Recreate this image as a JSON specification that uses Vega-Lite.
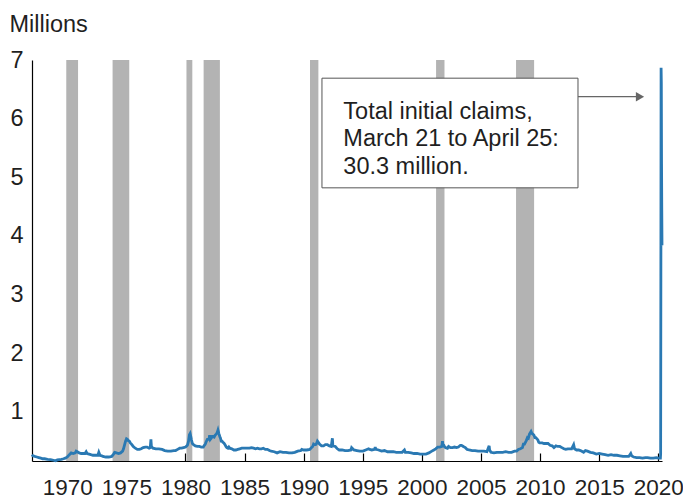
{
  "$schema": "https://vega.github.io/schema/vega-lite/v6.json",
  "width": 630,
  "height": 401,
  "autosize": "none",
  "padding": {"left": 32, "top": 60, "right": 21, "bottom": 38},
  "config": {"view": {"stroke": null}, "font": "Liberation Sans"},
  "datasets": {
    "claims": [
      {"date": "1967-01-07", "value": 0.27}, {"date": "1967-02-04", "value": 0.25}, {"date": "1967-04-01", "value": 0.24},
      {"date": "1967-06-03", "value": 0.23}, {"date": "1967-08-05", "value": 0.22}, {"date": "1967-10-07", "value": 0.21},
      {"date": "1967-12-02", "value": 0.2}, {"date": "1968-02-03", "value": 0.2}, {"date": "1968-05-04", "value": 0.19},
      {"date": "1968-08-03", "value": 0.185}, {"date": "1968-11-02", "value": 0.175}, {"date": "1969-01-04", "value": 0.165},
      {"date": "1969-03-01", "value": 0.18}, {"date": "1969-05-03", "value": 0.185}, {"date": "1969-07-05", "value": 0.19},
      {"date": "1969-09-06", "value": 0.2}, {"date": "1969-11-01", "value": 0.21}, {"date": "1970-01-03", "value": 0.23},
      {"date": "1970-03-07", "value": 0.27}, {"date": "1970-05-02", "value": 0.3}, {"date": "1970-07-04", "value": 0.29},
      {"date": "1970-09-05", "value": 0.3}, {"date": "1970-10-03", "value": 0.33}, {"date": "1970-11-07", "value": 0.32},
      {"date": "1971-01-02", "value": 0.3}, {"date": "1971-03-06", "value": 0.29}, {"date": "1971-05-01", "value": 0.29},
      {"date": "1971-07-03", "value": 0.29}, {"date": "1971-08-07", "value": 0.32}, {"date": "1971-09-04", "value": 0.29},
      {"date": "1971-11-06", "value": 0.28}, {"date": "1972-01-01", "value": 0.27}, {"date": "1972-03-04", "value": 0.26},
      {"date": "1972-06-03", "value": 0.26}, {"date": "1972-08-05", "value": 0.26}, {"date": "1972-09-02", "value": 0.31},
      {"date": "1972-10-07", "value": 0.26}, {"date": "1972-12-02", "value": 0.25}, {"date": "1973-01-06", "value": 0.24},
      {"date": "1973-04-07", "value": 0.23}, {"date": "1973-07-07", "value": 0.23}, {"date": "1973-10-06", "value": 0.24},
      {"date": "1973-12-01", "value": 0.28}, {"date": "1974-01-05", "value": 0.31}, {"date": "1974-03-02", "value": 0.3},
      {"date": "1974-05-04", "value": 0.29}, {"date": "1974-07-06", "value": 0.3}, {"date": "1974-09-07", "value": 0.33},
      {"date": "1974-10-05", "value": 0.37}, {"date": "1974-11-02", "value": 0.43}, {"date": "1974-12-07", "value": 0.5},
      {"date": "1975-01-04", "value": 0.54}, {"date": "1975-02-01", "value": 0.53}, {"date": "1975-03-01", "value": 0.51},
      {"date": "1975-04-05", "value": 0.5}, {"date": "1975-05-03", "value": 0.47}, {"date": "1975-06-07", "value": 0.45},
      {"date": "1975-08-02", "value": 0.41}, {"date": "1975-10-04", "value": 0.38}, {"date": "1975-12-06", "value": 0.36},
      {"date": "1976-02-07", "value": 0.36}, {"date": "1976-04-03", "value": 0.37}, {"date": "1976-06-05", "value": 0.39},
      {"date": "1976-08-07", "value": 0.4}, {"date": "1976-10-02", "value": 0.4}, {"date": "1976-12-04", "value": 0.38},
      {"date": "1977-01-08", "value": 0.39}, {"date": "1977-01-29", "value": 0.53}, {"date": "1977-02-12", "value": 0.41},
      {"date": "1977-04-02", "value": 0.38}, {"date": "1977-07-02", "value": 0.37}, {"date": "1977-10-01", "value": 0.37},
      {"date": "1978-01-07", "value": 0.36}, {"date": "1978-04-01", "value": 0.34}, {"date": "1978-07-01", "value": 0.33},
      {"date": "1978-10-07", "value": 0.33}, {"date": "1979-01-06", "value": 0.34}, {"date": "1979-03-03", "value": 0.34},
      {"date": "1979-05-05", "value": 0.36}, {"date": "1979-07-07", "value": 0.38}, {"date": "1979-09-01", "value": 0.38},
      {"date": "1979-11-03", "value": 0.39}, {"date": "1980-01-05", "value": 0.4}, {"date": "1980-03-01", "value": 0.43},
      {"date": "1980-04-05", "value": 0.5}, {"date": "1980-05-03", "value": 0.61}, {"date": "1980-05-24", "value": 0.63},
      {"date": "1980-06-14", "value": 0.58}, {"date": "1980-07-05", "value": 0.52}, {"date": "1980-08-02", "value": 0.46},
      {"date": "1980-09-06", "value": 0.44}, {"date": "1980-11-01", "value": 0.42}, {"date": "1981-01-03", "value": 0.41},
      {"date": "1981-03-07", "value": 0.41}, {"date": "1981-05-02", "value": 0.4}, {"date": "1981-07-04", "value": 0.4},
      {"date": "1981-08-08", "value": 0.43}, {"date": "1981-09-05", "value": 0.45}, {"date": "1981-10-03", "value": 0.49},
      {"date": "1981-11-07", "value": 0.53}, {"date": "1981-12-05", "value": 0.53}, {"date": "1982-01-02", "value": 0.55},
      {"date": "1982-01-16", "value": 0.6}, {"date": "1982-02-06", "value": 0.53}, {"date": "1982-03-06", "value": 0.55},
      {"date": "1982-04-03", "value": 0.58}, {"date": "1982-05-01", "value": 0.58}, {"date": "1982-06-05", "value": 0.57},
      {"date": "1982-07-03", "value": 0.6}, {"date": "1982-08-07", "value": 0.62}, {"date": "1982-09-04", "value": 0.64},
      {"date": "1982-10-02", "value": 0.69}, {"date": "1982-10-30", "value": 0.63}, {"date": "1982-11-27", "value": 0.58},
      {"date": "1982-12-18", "value": 0.55}, {"date": "1983-01-08", "value": 0.5}, {"date": "1983-02-05", "value": 0.5},
      {"date": "1983-03-05", "value": 0.48}, {"date": "1983-04-02", "value": 0.47}, {"date": "1983-05-07", "value": 0.44},
      {"date": "1983-06-04", "value": 0.41}, {"date": "1983-07-02", "value": 0.39}, {"date": "1983-08-06", "value": 0.38},
      {"date": "1983-09-03", "value": 0.4}, {"date": "1983-10-01", "value": 0.38}, {"date": "1983-12-03", "value": 0.37},
      {"date": "1984-02-04", "value": 0.35}, {"date": "1984-04-07", "value": 0.35}, {"date": "1984-06-02", "value": 0.36},
      {"date": "1984-08-04", "value": 0.37}, {"date": "1984-10-06", "value": 0.38}, {"date": "1984-12-01", "value": 0.38},
      {"date": "1985-02-02", "value": 0.38}, {"date": "1985-04-06", "value": 0.38}, {"date": "1985-06-01", "value": 0.38},
      {"date": "1985-08-03", "value": 0.39}, {"date": "1985-10-05", "value": 0.38}, {"date": "1985-12-07", "value": 0.37},
      {"date": "1986-02-01", "value": 0.38}, {"date": "1986-04-05", "value": 0.37}, {"date": "1986-06-07", "value": 0.37},
      {"date": "1986-08-02", "value": 0.38}, {"date": "1986-10-04", "value": 0.36}, {"date": "1986-12-06", "value": 0.36},
      {"date": "1987-02-07", "value": 0.34}, {"date": "1987-04-04", "value": 0.33}, {"date": "1987-07-04", "value": 0.32},
      {"date": "1987-10-03", "value": 0.3}, {"date": "1988-01-02", "value": 0.32}, {"date": "1988-04-02", "value": 0.31},
      {"date": "1988-07-02", "value": 0.31}, {"date": "1988-10-01", "value": 0.3}, {"date": "1989-01-07", "value": 0.3},
      {"date": "1989-04-01", "value": 0.31}, {"date": "1989-07-01", "value": 0.33}, {"date": "1989-10-07", "value": 0.34},
      {"date": "1989-11-04", "value": 0.36}, {"date": "1990-01-06", "value": 0.35}, {"date": "1990-04-07", "value": 0.35},
      {"date": "1990-07-07", "value": 0.36}, {"date": "1990-09-01", "value": 0.39}, {"date": "1990-10-06", "value": 0.41},
      {"date": "1990-11-03", "value": 0.45}, {"date": "1990-12-01", "value": 0.44}, {"date": "1991-01-05", "value": 0.44},
      {"date": "1991-02-02", "value": 0.46}, {"date": "1991-03-02", "value": 0.5}, {"date": "1991-03-30", "value": 0.48},
      {"date": "1991-05-04", "value": 0.45}, {"date": "1991-07-06", "value": 0.42}, {"date": "1991-09-07", "value": 0.42},
      {"date": "1991-11-02", "value": 0.44}, {"date": "1992-01-04", "value": 0.44}, {"date": "1992-03-07", "value": 0.42},
      {"date": "1992-05-02", "value": 0.41}, {"date": "1992-06-06", "value": 0.55}, {"date": "1992-06-20", "value": 0.42},
      {"date": "1992-09-05", "value": 0.41}, {"date": "1992-11-07", "value": 0.37}, {"date": "1993-01-02", "value": 0.35},
      {"date": "1993-04-03", "value": 0.35}, {"date": "1993-07-03", "value": 0.34}, {"date": "1993-10-02", "value": 0.34},
      {"date": "1994-01-01", "value": 0.35}, {"date": "1994-01-22", "value": 0.39}, {"date": "1994-04-02", "value": 0.35},
      {"date": "1994-07-02", "value": 0.34}, {"date": "1994-10-01", "value": 0.33}, {"date": "1995-01-07", "value": 0.33},
      {"date": "1995-04-01", "value": 0.35}, {"date": "1995-07-01", "value": 0.37}, {"date": "1995-08-05", "value": 0.36},
      {"date": "1995-10-07", "value": 0.35}, {"date": "1996-01-06", "value": 0.36}, {"date": "1996-01-20", "value": 0.4},
      {"date": "1996-02-10", "value": 0.36}, {"date": "1996-05-04", "value": 0.35}, {"date": "1996-08-03", "value": 0.33},
      {"date": "1996-11-02", "value": 0.34}, {"date": "1997-02-01", "value": 0.32}, {"date": "1997-05-03", "value": 0.32},
      {"date": "1997-08-02", "value": 0.32}, {"date": "1997-11-01", "value": 0.31}, {"date": "1998-02-07", "value": 0.31},
      {"date": "1998-05-02", "value": 0.31}, {"date": "1998-07-11", "value": 0.35}, {"date": "1998-08-08", "value": 0.31},
      {"date": "1998-11-07", "value": 0.31}, {"date": "1999-02-06", "value": 0.3}, {"date": "1999-05-01", "value": 0.29},
      {"date": "1999-08-07", "value": 0.29}, {"date": "1999-11-06", "value": 0.28}, {"date": "2000-02-05", "value": 0.28},
      {"date": "2000-05-06", "value": 0.28}, {"date": "2000-08-05", "value": 0.3}, {"date": "2000-11-04", "value": 0.33},
      {"date": "2001-01-06", "value": 0.35}, {"date": "2001-03-03", "value": 0.37}, {"date": "2001-05-05", "value": 0.4},
      {"date": "2001-07-07", "value": 0.4}, {"date": "2001-09-08", "value": 0.41}, {"date": "2001-09-29", "value": 0.5},
      {"date": "2001-10-13", "value": 0.44}, {"date": "2001-11-10", "value": 0.43}, {"date": "2001-12-08", "value": 0.4},
      {"date": "2002-01-05", "value": 0.39}, {"date": "2002-03-02", "value": 0.38}, {"date": "2002-04-06", "value": 0.41},
      {"date": "2002-06-01", "value": 0.39}, {"date": "2002-08-03", "value": 0.39}, {"date": "2002-10-05", "value": 0.4},
      {"date": "2002-12-07", "value": 0.39}, {"date": "2003-02-01", "value": 0.4}, {"date": "2003-04-05", "value": 0.43},
      {"date": "2003-05-10", "value": 0.43}, {"date": "2003-07-05", "value": 0.41}, {"date": "2003-09-06", "value": 0.39},
      {"date": "2003-11-01", "value": 0.36}, {"date": "2004-01-03", "value": 0.35}, {"date": "2004-04-03", "value": 0.34},
      {"date": "2004-07-03", "value": 0.34}, {"date": "2004-10-02", "value": 0.33}, {"date": "2005-01-01", "value": 0.33},
      {"date": "2005-04-02", "value": 0.33}, {"date": "2005-07-02", "value": 0.32}, {"date": "2005-09-10", "value": 0.42},
      {"date": "2005-09-24", "value": 0.35}, {"date": "2005-11-05", "value": 0.31}, {"date": "2006-02-04", "value": 0.3},
      {"date": "2006-05-06", "value": 0.31}, {"date": "2006-08-05", "value": 0.31}, {"date": "2006-11-04", "value": 0.31},
      {"date": "2007-02-03", "value": 0.32}, {"date": "2007-05-05", "value": 0.31}, {"date": "2007-08-04", "value": 0.31},
      {"date": "2007-11-03", "value": 0.33}, {"date": "2008-01-05", "value": 0.33}, {"date": "2008-03-01", "value": 0.36},
      {"date": "2008-05-03", "value": 0.37}, {"date": "2008-07-05", "value": 0.39}, {"date": "2008-08-02", "value": 0.45},
      {"date": "2008-09-06", "value": 0.45}, {"date": "2008-10-04", "value": 0.48}, {"date": "2008-11-01", "value": 0.51},
      {"date": "2008-12-06", "value": 0.56}, {"date": "2009-01-03", "value": 0.55}, {"date": "2009-02-07", "value": 0.62},
      {"date": "2009-03-28", "value": 0.665}, {"date": "2009-04-25", "value": 0.63}, {"date": "2009-05-23", "value": 0.62},
      {"date": "2009-06-27", "value": 0.6}, {"date": "2009-07-25", "value": 0.56}, {"date": "2009-08-22", "value": 0.56},
      {"date": "2009-09-26", "value": 0.54}, {"date": "2009-10-24", "value": 0.52}, {"date": "2009-11-21", "value": 0.48},
      {"date": "2009-12-19", "value": 0.47}, {"date": "2010-01-16", "value": 0.47}, {"date": "2010-03-06", "value": 0.47},
      {"date": "2010-05-01", "value": 0.46}, {"date": "2010-07-03", "value": 0.46}, {"date": "2010-09-04", "value": 0.46},
      {"date": "2010-11-06", "value": 0.43}, {"date": "2011-01-08", "value": 0.42}, {"date": "2011-03-05", "value": 0.39},
      {"date": "2011-05-07", "value": 0.42}, {"date": "2011-07-02", "value": 0.41}, {"date": "2011-09-03", "value": 0.41},
      {"date": "2011-11-05", "value": 0.39}, {"date": "2012-01-07", "value": 0.37}, {"date": "2012-03-03", "value": 0.36},
      {"date": "2012-05-05", "value": 0.37}, {"date": "2012-07-07", "value": 0.37}, {"date": "2012-09-01", "value": 0.37},
      {"date": "2012-11-03", "value": 0.44}, {"date": "2012-12-01", "value": 0.37}, {"date": "2013-02-02", "value": 0.35},
      {"date": "2013-04-06", "value": 0.35}, {"date": "2013-06-01", "value": 0.34}, {"date": "2013-09-07", "value": 0.31},
      {"date": "2013-11-02", "value": 0.34}, {"date": "2014-01-04", "value": 0.33}, {"date": "2014-04-05", "value": 0.31},
      {"date": "2014-07-05", "value": 0.3}, {"date": "2014-10-04", "value": 0.28}, {"date": "2015-01-03", "value": 0.29},
      {"date": "2015-04-04", "value": 0.28}, {"date": "2015-07-04", "value": 0.27}, {"date": "2015-10-03", "value": 0.26},
      {"date": "2016-01-02", "value": 0.27}, {"date": "2016-04-02", "value": 0.26}, {"date": "2016-07-02", "value": 0.26},
      {"date": "2016-10-01", "value": 0.25}, {"date": "2017-01-07", "value": 0.24}, {"date": "2017-04-01", "value": 0.24},
      {"date": "2017-07-01", "value": 0.24}, {"date": "2017-09-02", "value": 0.29}, {"date": "2017-09-30", "value": 0.25},
      {"date": "2017-12-02", "value": 0.23}, {"date": "2018-03-03", "value": 0.22}, {"date": "2018-06-02", "value": 0.22},
      {"date": "2018-09-01", "value": 0.21}, {"date": "2018-12-01", "value": 0.22}, {"date": "2019-02-02", "value": 0.22},
      {"date": "2019-05-04", "value": 0.21}, {"date": "2019-08-03", "value": 0.21}, {"date": "2019-11-02", "value": 0.22},
      {"date": "2020-01-04", "value": 0.21}, {"date": "2020-02-01", "value": 0.21}, {"date": "2020-03-07", "value": 0.21},
      {"date": "2020-03-14", "value": 0.28}, {"date": "2020-03-21", "value": 3.307}, {"date": "2020-03-28", "value": 6.867},
      {"date": "2020-04-04", "value": 6.615}, {"date": "2020-04-11", "value": 5.237}, {"date": "2020-04-18", "value": 4.442},
      {"date": "2020-04-25", "value": 3.839}
    ],
    "recessions": [
      {"start": "1969-12-01", "end": "1970-11-30"},
      {"start": "1973-11-01", "end": "1975-03-31"},
      {"start": "1980-02-01", "end": "1980-07-31"},
      {"start": "1981-07-15", "end": "1982-11-30"},
      {"start": "1990-07-15", "end": "1991-03-31"},
      {"start": "2001-03-15", "end": "2001-11-30"},
      {"start": "2007-12-20", "end": "2009-06-30"}
    ],
    "box": [{"start": "1991-07-20", "end": "2013-03-17", "top": 6.69, "bottom": 4.82}],
    "note": [
      {"date": "1993-05-10", "value": 6.12, "label": "Total initial claims,"},
      {"date": "1993-05-10", "value": 5.65, "label": "March 21 to April 25:"},
      {"date": "1993-05-10", "value": 5.18, "label": "30.3 million."}
    ],
    "arrow": [{"start": "2013-03-17", "end": "2018-06-15", "value": 6.375}]
  },
  "layer": [
    {
      "data": {"name": "recessions"},
      "mark": {"type": "rect", "color": "#b3b3b3"},
      "encoding": {
        "x": {"field": "start", "type": "temporal", "title": null},
        "x2": {"field": "end"},
        "y": {"datum": 7, "type": "quantitative", "title": "Millions"},
        "y2": {"datum": 0.162}
      }
    },
    {
      "data": {"name": "claims"},
      "mark": {"type": "line", "color": "#2a79b3", "strokeWidth": 2.8},
      "encoding": {
        "x": {
          "field": "date", "type": "temporal", "title": null,
          "scale": {"domain": [{"year": 1967, "month": 1, "date": 7}, {"year": 2020, "month": 4, "date": 25}]},
          "axis": {
            "format": "%Y", "tickCount": {"interval": "year", "step": 5},
            "grid": false, "domainColor": "#000000", "domainWidth": 1.2,
            "tickColor": "#000000", "tickSize": -8, "tickWidth": 1.2,
            "labelFontSize": 22.5, "labelColor": "#1f1f1f", "labelPadding": 23, "labelDx": -2.5,
            "labelFlush": false, "labelOverlap": false
          }
        },
        "y": {
          "field": "value", "type": "quantitative", "title": "Millions",
          "scale": {"domain": [0.162, 7], "nice": false, "zero": false},
          "axis": {
            "values": [1, 2, 3, 4, 5, 6, 7], "format": "d", "ticks": false,
            "domainColor": "#000000", "domainWidth": 1.2,
            "gridColor": "#d9d9d9", "gridWidth": 1.5,
            "labelFontSize": 23.5, "labelColor": "#1f1f1f", "labelPadding": 9,
            "titleAngle": 0, "titleAlign": "left", "titleBaseline": "alphabetic",
            "titleX": -23, "titleY": -29, "titleFontSize": 23.5, "titleFontWeight": "normal", "titleColor": "#1f1f1f"
          }
        }
      }
    },
    {
      "data": {"name": "box"},
      "mark": {"type": "rect", "fill": "#ffffff", "stroke": "#555555", "strokeWidth": 1},
      "encoding": {
        "x": {"field": "start", "type": "temporal", "title": null},
        "x2": {"field": "end"},
        "y": {"field": "top", "type": "quantitative", "title": "Millions"},
        "y2": {"field": "bottom"}
      }
    },
    {
      "data": {"name": "note"},
      "mark": {"type": "text", "align": "left", "baseline": "middle", "fontSize": 23.5, "color": "#1f1f1f"},
      "encoding": {
        "x": {"field": "date", "type": "temporal", "title": null},
        "y": {"field": "value", "type": "quantitative", "title": "Millions"},
        "text": {"field": "label"}
      }
    },
    {
      "data": {"name": "arrow"},
      "mark": {"type": "rule", "color": "#666666", "strokeWidth": 1.2},
      "encoding": {
        "x": {"field": "start", "type": "temporal", "title": null},
        "x2": {"field": "end"},
        "y": {"field": "value", "type": "quantitative", "title": "Millions"}
      }
    },
    {
      "data": {"name": "arrow"},
      "mark": {"type": "point", "shape": "triangle-right", "filled": true, "color": "#666666", "size": 90, "opacity": 1},
      "encoding": {
        "x": {"field": "end", "type": "temporal", "title": null},
        "y": {"field": "value", "type": "quantitative", "title": "Millions"}
      }
    }
  ]
}
